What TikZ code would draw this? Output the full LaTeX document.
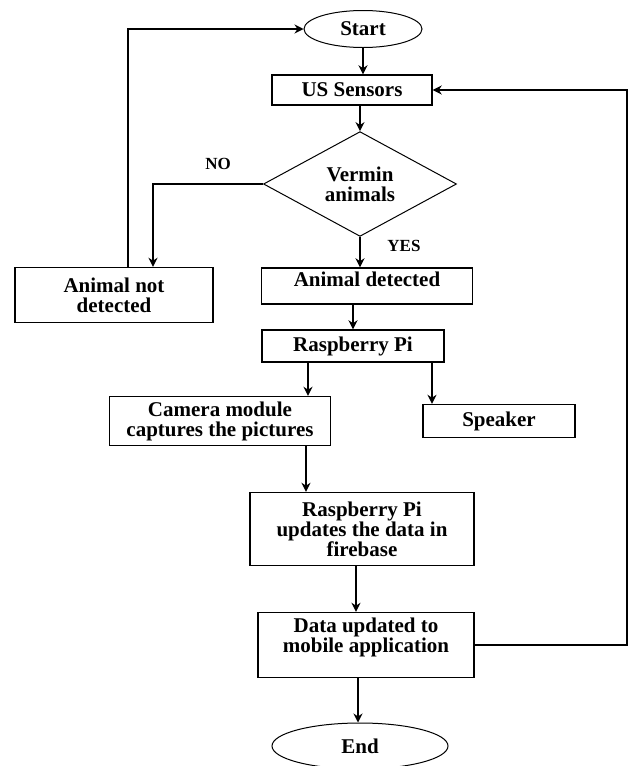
\documentclass[tikz,border=0pt]{standalone}
\usepackage{fontspec}
\setmainfont{Liberation Serif}
\usetikzlibrary{shapes.geometric,arrows.meta}

\begin{document}
\begin{tikzpicture}[x=1pt,y=-1pt,
        box/.style={draw,line width=1.4pt,align=center,inner sep=0pt,
            font=\bfseries\fontsize{21}{20}\selectfont},
        oval/.style={draw,ellipse,line width=1pt,inner sep=0pt,
            font=\bfseries\fontsize{21}{20}\selectfont},
        arr/.style={-{Stealth[length=9pt,width=9pt]},line width=2pt},
        lbl/.style={font=\bfseries\fontsize{17}{17}\selectfont}]
        \useasboundingbox (0,0) rectangle (628,766);
        \node[oval,minimum width=118pt,minimum height=37pt] (start) at (363,29) {Start};
        \node[box,minimum width=160pt,minimum height=30pt] (sens) at (352,90) {US Sensors};
        \node[draw,diamond,line width=1pt,inner sep=0pt,align=center,
            minimum width=193pt,minimum height=98pt,
            font=\bfseries\fontsize{21}{20}\selectfont] (verm) at (360,184) {Vermin\\animals};
        \node[lbl] (no) at (218,164) {NO};
        \node[lbl] (yes) at (404,246) {YES};
        \node[box,minimum width=198pt,minimum height=55pt] (notdet) at (114,295) {Animal not\\detected};
        \node[box,minimum width=211pt,minimum height=36pt,text depth=14pt] (animal) at (367,286) {Animal detected};
        \node[box,minimum width=182pt,minimum height=32pt] (rpi) at (353,346) {Raspberry Pi};
        \node[box,minimum width=221pt,minimum height=49pt] (cam) at (220,421) {Camera module\\captures the pictures};
        \node[box,minimum width=152pt,minimum height=33pt] (spk) at (499,421) {Speaker};
        \node[box,minimum width=224pt,minimum height=73pt] (rpiup) at (362,529) {Raspberry Pi\\updates the data in\\firebase};
        \node[box,minimum width=216pt,minimum height=65pt,text depth=20pt] (data) at (366,645) {Data updated to\\mobile application};
        \node[oval,minimum width=176pt,minimum height=46pt] (stop) at (360,746) {End};
        \coordinate (edge) at (627,0);

        \draw[arr] (start) -- (start |- sens.north);
        \draw[arr] (verm.north |- sens.south) -- (verm.north);
        \draw[arr] (verm.west) -| ([xshift=39pt]notdet.north);
        \draw[arr] ([xshift=14pt]notdet.north) |- (start.west);
        \draw[arr] (verm.south) -- (verm.south |- animal.north);
        \draw[arr] (rpi.north |- animal.south) -- (rpi.north);
        \draw[arr] ([xshift=-45pt]rpi.south) -- ([xshift=-45pt]rpi.south |- cam.north);
        \draw[arr] ([xshift=79pt]rpi.south) -- ([xshift=79pt]rpi.south |- spk.north);
        \draw[arr] ([xshift=86pt]cam.south) -- ([xshift=86pt]cam.south |- rpiup.north);
        \draw[arr] ([xshift=-6pt]rpiup.south) -- ([xshift=-6pt]rpiup.south |- data.north);
        \draw[arr] ([xshift=-8pt]data.south) -- ([xshift=-8pt]data.south |- stop.north);
        \draw[arr] (data.east) -- (data.east -| edge) |- (sens.east);
    \end{tikzpicture}
\end{document}
